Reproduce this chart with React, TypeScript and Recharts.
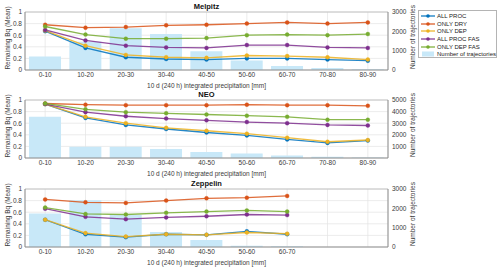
import React from 'react';
import {
  ComposedChart,
  Bar,
  Line,
  XAxis,
  YAxis,
  CartesianGrid,
  ReferenceLine,
  Legend,
  Label,
} from 'recharts';

const categories = ['0-10', '10-20', '20-30', '30-40', '40-50', '50-60', '60-70', '70-80', '80-90'];

// Melpitz
const melpitzTraj = [700, 1460, 2160, 1860, 965, 485, 208, 104, 35];
const melpitzAllProc = [0.67, 0.38, 0.22, 0.19, 0.18, 0.2, 0.2, 0.18, 0.16];
const melpitzOnlyDry = [0.78, 0.73, 0.74, 0.77, 0.78, 0.8, 0.82, 0.8, 0.82];
const melpitzOnlyDep = [0.68, 0.42, 0.26, 0.22, 0.21, 0.25, 0.24, 0.22, 0.18];
const melpitzAllProcFas = [0.69, 0.51, 0.42, 0.39, 0.38, 0.43, 0.43, 0.39, 0.38];
const melpitzOnlyDepFas = [0.75, 0.61, 0.54, 0.54, 0.55, 0.6, 0.61, 0.6, 0.62];

// NEO
const neoTraj = [3555, 980, 980, 780, 520, 390, 215, 100, 45];
const neoAllProc = [0.93, 0.69, 0.57, 0.5, 0.44, 0.39, 0.32, 0.26, 0.3];
const neoOnlyDry = [0.94, 0.92, 0.91, 0.91, 0.91, 0.92, 0.91, 0.91, 0.9];
const neoOnlyDep = [0.93, 0.71, 0.6, 0.52, 0.47, 0.42, 0.35, 0.28, 0.31];
const neoAllProcFas = [0.93, 0.79, 0.72, 0.68, 0.65, 0.62, 0.6, 0.57, 0.56];
const neoOnlyDepFas = [0.94, 0.84, 0.79, 0.77, 0.75, 0.73, 0.71, 0.66, 0.66];

// Zeppelin (no data above 70 mm)
const zeppelinTraj = [1730, 2420, 1670, 780, 365, 70, 35];
const zeppelinAllProc = [0.47, 0.22, 0.17, 0.22, 0.21, 0.27, 0.22];
const zeppelinOnlyDry = [0.82, 0.77, 0.76, 0.8, 0.84, 0.85, 0.88];
const zeppelinOnlyDep = [0.47, 0.24, 0.18, 0.22, 0.21, 0.25, 0.23];
const zeppelinAllProcFas = [0.66, 0.52, 0.48, 0.51, 0.53, 0.56, 0.55];
const zeppelinOnlyDepFas = [0.68, 0.57, 0.56, 0.59, 0.61, 0.63, 0.61];

const leftTicks = [0, 0.2, 0.4, 0.6, 0.8, 1];

const FONT = '"Liberation Sans", Arial, sans-serif';
const TEXT = '#3a3a3a';
const AXIS = '#8c8c8c';

const series = [
  { key: 'allProc', name: 'ALL PROC', color: '#0072BD' },
  { key: 'onlyDry', name: 'ONLY DRY', color: '#D95319' },
  { key: 'onlyDep', name: 'ONLY DEP', color: '#EDB120' },
  { key: 'allProcFas', name: 'ALL PROC FAS', color: '#7E2F8E' },
  { key: 'onlyDepFas', name: 'ONLY DEP FAS', color: '#77AC30' },
];

const buildRows = (
  traj: number[],
  allProc: number[],
  onlyDry: number[],
  onlyDep: number[],
  allProcFas: number[],
  onlyDepFas: number[]
) =>
  categories.map((cat, i) => ({
    cat,
    traj: traj[i],
    allProc: allProc[i],
    onlyDry: onlyDry[i],
    onlyDep: onlyDep[i],
    allProcFas: allProcFas[i],
    onlyDepFas: onlyDepFas[i],
  }));

const tickStyle = { fontSize: 6.5, fill: TEXT, fontFamily: FONT };

const seriesOrder = (p: any) => {
  const i = series.findIndex((s) => s.name === p.value);
  return i < 0 ? 99 : i;
};

const LegendBox = (props: any) => {
  const items = [...(props.payload || [])].sort((a: any, b: any) => seriesOrder(a) - seriesOrder(b));
  return (
    <div
      style={{
        width: 79,
        height: 48,
        boxSizing: 'border-box',
        border: '1px solid #b4b4b4',
        background: '#fff',
        padding: '1px 0 0 2px',
        fontFamily: FONT,
        fontSize: 6,
        color: '#222',
      }}
    >
      {items.map((p: any) => (
        <div key={p.value} style={{ display: 'flex', alignItems: 'center', height: 7.7, whiteSpace: 'nowrap' }}>
          <svg width={14} height={6} style={{ flex: 'none' }}>
            {p.type === 'rect' ? (
              <rect x={1} y={0.5} width={12} height={5} fill={p.color} />
            ) : (
              <>
                <line x1={0} x2={14} y1={3} y2={3} stroke={p.color} strokeWidth={1.2} />
                <circle cx={7} cy={3} r={1.8} fill={p.color} />
              </>
            )}
          </svg>
          <span style={{ marginLeft: 2 }}>{p.value}</span>
        </div>
      ))}
    </div>
  );
};

interface PanelProps {
  title: string;
  rows: any[];
  rightMax: number;
  rightTicks: number[];
  top: number;
  labelCount: number;
  showLegend?: boolean;
}

const Panel: React.FC<PanelProps> = ({ title, rows, rightMax, rightTicks, top, labelCount, showLegend }) => (
  <div style={{ position: 'absolute', left: 0, top, width: 500, height: 90 }}>
    <div
      style={{
        position: 'absolute',
        left: 25,
        width: 363,
        top: 2,
        textAlign: 'center',
        fontFamily: FONT,
        fontSize: 7.5,
        fontWeight: 'bold',
        color: '#111',
        zIndex: 2,
      }}
    >
      {title}
    </div>
    <ComposedChart width={500} height={90} data={rows} margin={{ top: 12, right: 0, bottom: 0, left: 0 }} barCategoryGap="10%">
      <CartesianGrid yAxisId="left" stroke="#e4e4e4" strokeWidth={0.7} />
      <XAxis
        dataKey="cat"
        interval={0}
        height={20}
        tickSize={0}
        tickMargin={2.5}
        tickLine={false}
        axisLine={{ stroke: AXIS }}
        tick={tickStyle}
        tickFormatter={(v: string, i: number) => (i < labelCount ? v : '')}
      >
        <Label
          content={(p: any) => (
            <text
              x={p.viewBox.x + p.viewBox.width / 2}
              y={p.viewBox.y + 17.5}
              textAnchor="middle"
              fontSize={6.5}
              fontFamily={FONT}
              fill={TEXT}
            >
              10 d (240 h) integrated precipitation [mm]
            </text>
          )}
        />
      </XAxis>
      <YAxis
        yAxisId="left"
        width={25}
        domain={[0, 1]}
        ticks={leftTicks}
        interval={0}
        tickSize={0}
        tickMargin={3}
        tickLine={false}
        axisLine={{ stroke: AXIS }}
        tick={tickStyle}
      >
        <Label
          content={(p: any) => {
            const x = p.viewBox.x + 7;
            const y = p.viewBox.y + p.viewBox.height / 2 - 3;
            return (
              <text
                x={x}
                y={y}
                transform={`rotate(-90, ${x}, ${y})`}
                textAnchor="middle"
                dominantBaseline="central"
                fontSize={6.5}
                fontFamily={FONT}
                fill={TEXT}
              >
                Remaining Bq (Mean)
              </text>
            );
          }}
        />
      </YAxis>
      <YAxis
        yAxisId="right"
        orientation="right"
        width={112}
        domain={[0, rightMax]}
        ticks={rightTicks}
        interval={0}
        tickSize={0}
        tickMargin={4}
        tickLine={false}
        axisLine={{ stroke: AXIS }}
        tick={tickStyle}
      >
        <Label
          content={(p: any) => {
            const x = p.viewBox.x + 24;
            const y = p.viewBox.y + p.viewBox.height / 2 - 4;
            return (
              <text
                x={x}
                y={y}
                transform={`rotate(-90, ${x}, ${y})`}
                textAnchor="middle"
                dominantBaseline="central"
                fontSize={6.5}
                fontFamily={FONT}
                fill={TEXT}
              >
                Number of trajectories
              </text>
            );
          }}
        />
      </YAxis>
      <ReferenceLine yAxisId="left" y={1} stroke="#b8b8b8" strokeWidth={0.8} />
      <Bar yAxisId="right" dataKey="traj" name="Number of trajectories" fill="#C8E8F8" isAnimationActive={false} />
      {series.map((s) => (
        <Line
          key={s.key}
          yAxisId="left"
          dataKey={s.key}
          name={s.name}
          stroke={s.color}
          strokeWidth={1.3}
          strokeOpacity={0.85}
          dot={{ r: 2, fill: s.color, stroke: s.color, strokeWidth: 0.4 }}
          isAnimationActive={false}
        />
      ))}
      {showLegend && (
        <Legend
          layout="vertical"
          align="center"
          verticalAlign="middle"
          content={LegendBox}
          wrapperStyle={{ left: 418, top: 10, width: 79, height: 48 }}
        />
      )}
    </ComposedChart>
  </div>
);

export default function App() {
  const melpitz = buildRows(melpitzTraj, melpitzAllProc, melpitzOnlyDry, melpitzOnlyDep, melpitzAllProcFas, melpitzOnlyDepFas);
  const neo = buildRows(neoTraj, neoAllProc, neoOnlyDry, neoOnlyDep, neoAllProcFas, neoOnlyDepFas);
  const zeppelin = buildRows(
    zeppelinTraj,
    zeppelinAllProc,
    zeppelinOnlyDry,
    zeppelinOnlyDep,
    zeppelinAllProcFas,
    zeppelinOnlyDepFas
  );
  return (
    <div style={{ position: 'absolute', left: 0, top: 0, width: 500, height: 271, background: '#fff' }}>
      <Panel title="Melpitz" rows={melpitz} rightMax={3000} rightTicks={[0, 1000, 2000, 3000]} top={0} labelCount={9} showLegend />
      <Panel title="NEO" rows={neo} rightMax={5000} rightTicks={[1000, 2000, 3000, 4000, 5000]} top={88} labelCount={9} />
      <Panel title="Zeppelin" rows={zeppelin} rightMax={3000} rightTicks={[0, 1000, 2000, 3000]} top={177} labelCount={zeppelinTraj.length} />
    </div>
  );
}
